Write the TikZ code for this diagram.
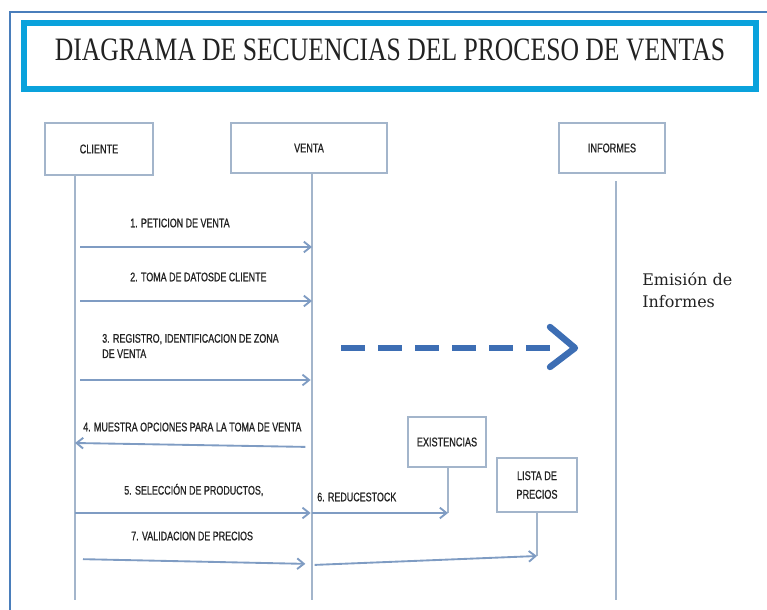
\documentclass[tikz,border=0pt]{standalone}
\usepackage{fontspec}
\usepackage{xcolor}
\usepackage{tikz}
\usetikzlibrary{positioning, arrows.meta, calc}
\setmainfont{Liberation Serif}
\newfontfamily\titlefont[FakeStretch=0.785]{Liberation Serif}
\newfontfamily\lblfont[FakeStretch=0.72, FakeBold=0.8]{Liberation Sans}
\newfontfamily\notefont{DejaVu Serif}
\definecolor{framblue}{HTML}{4A7EBB}
\definecolor{titlecyan}{HTML}{0AA2DC}
\definecolor{boxline}{HTML}{A3B5CB}
\definecolor{msgline}{HTML}{7F9CC3}
\definecolor{dashblue}{HTML}{3D6EB4}
\definecolor{lbltext}{HTML}{222222}

\begin{document}
\begin{tikzpicture}[x=0.75pt, y=-0.75pt,
  lifebox/.style={draw=boxline, fill=white, line width=1.3pt, inner sep=2pt,
    align=center, text=lbltext, font=\lblfont\fontsize{9.5}{14}\selectfont},
  lifeline/.style={draw=boxline, line width=1.1pt},
  msg/.style={draw=msgline, line width=1.4pt, -{Straight Barb[length=5pt, width=8pt]}},
  msglbl/.style={text=lbltext, inner sep=0pt, font=\lblfont\fontsize{9.3}{11.5}\selectfont}]
  \useasboundingbox (0,0) rectangle (767,610);

  % outer frame and title
  \draw[framblue, line width=1.6pt] (767,12) -- (10,12) -- (10,612);
  \node[draw=titlecyan, line width=4.5pt, minimum width=732*0.75pt, minimum height=66*0.75pt,
        text height=16.5pt, text depth=9pt, inner sep=0pt,
        font=\titlefont\fontsize{24.5}{26}\selectfont, text=lbltext] (title) at (390,56)
    {DIAGRAMA DE SECUENCIAS DEL PROCESO DE VENTAS};

  % participants
  \node[lifebox, minimum width=81pt, minimum height=39pt] (cliente) at (99,149) {CLIENTE};
  \node[lifebox, minimum width=117pt, minimum height=38pt] (venta) at (309,148) {VENTA};
  \node[lifebox, minimum width=79pt, minimum height=38pt] (informes) at (612,148) {INFORMES};
  \node[lifebox, minimum width=59pt, minimum height=38pt] (existencias) at (447,442) {EXISTENCIAS};
  \node[lifebox, minimum width=60pt, minimum height=41pt] (lista) at (537,485) {LISTA DE\\PRECIOS};

  % lifelines
  \coordinate (cl) at (75,600);
  \coordinate (vt) at (312,600);
  \coordinate (inf) at (616,600);
  \coordinate (ex) at (448,513);
  \coordinate (lp) at (537,556);
  \draw[lifeline] (cliente.south -| cl) -- (cl);
  \draw[lifeline] (venta.south -| vt) -- (vt);
  \draw[lifeline] ($(informes.south -| inf)+(0,7)$) -- (inf);
  \draw[lifeline] (existencias.south -| ex) -- (ex);
  \draw[lifeline] (lista.south -| lp) -- (lp);

  % message levels
  \coordinate (m1) at (0,247);
  \coordinate (m2) at (0,301);
  \coordinate (m3) at (0,380);
  \coordinate (m4) at (0,445);
  \coordinate (m5) at (0,513);
  \coordinate (m7) at (0,561);

  \draw[msg, shorten <=4pt] (cl |- m1) -- (vt |- m1);
  \draw[msg, shorten <=4pt] (cl |- m2) -- (vt |- m2);
  \draw[msg, shorten <=4pt, shorten >=1pt] (cl |- m3) -- (vt |- m3);
  \draw[msg, shorten <=5pt] ($(vt |- m4)+(0,2)$) -- ($(cl |- m4)+(0,-2)$);
  \draw[msg, shorten >=1pt] (cl |- m5) -- (vt |- m5);
  \draw[msg] (vt |- m5) -- (ex);
  \draw[msg, shorten <=6pt, shorten >=5pt] ($(cl |- m7)+(0,-2)$) -- ($(vt |- m7)+(0,3)$);
  \draw[msg, shorten <=2pt] ($(vt |- m7)+(0,4)$) -- (lp);

  % message labels
  \node[msglbl, anchor=west] (l1) at (130,223) {1. PETICION DE VENTA};
  \node[msglbl, anchor=west] (l2) at (130,277) {2. TOMA DE DATOSDE CLIENTE};
  \node[msglbl, anchor=west, align=left] (l3) at (102,346) {3. REGISTRO, IDENTIFICACION DE ZONA\\DE VENTA};
  \node[msglbl, anchor=west] (l4) at (83,427) {4. MUESTRA OPCIONES PARA LA TOMA DE VENTA};
  \node[msglbl, anchor=west] (l5) at (124,490) {5. SELECCIÓN DE PRODUCTOS,};
  \node[msglbl, anchor=west] (l6) at (317,497) {6. REDUCESTOCK};
  \node[msglbl, anchor=west] (l7) at (131,536) {7. VALIDACION DE PRECIOS};

  % note on the right
  \node[anchor=north west, align=left, inner sep=0pt, font=\notefont\fontsize{12}{16.5}\selectfont,
        text=lbltext] (emision) at (642,272) {Emisión de\\Informes};

  % big dashed arrow
  \coordinate (d0) at (341,348);
  \coordinate (d1) at (552,348);
  \coordinate (tip) at (575,348);
  \draw[dashblue, line width=4.8pt, dash pattern=on 18pt off 9.75pt] (d0) -- (d1);
  \draw[dashblue, line width=4.8pt, line join=round, line cap=round]
    ($(tip)+(-25,-21)$) -- (tip) -- ($(tip)+(-25,19)$);
\end{tikzpicture}
\end{document}
